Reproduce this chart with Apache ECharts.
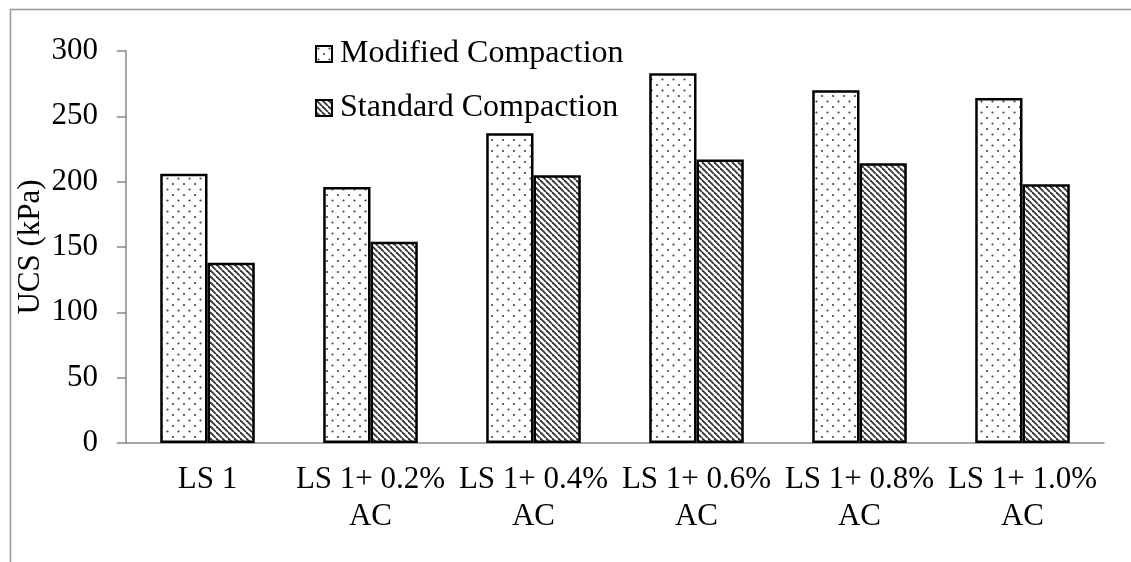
<!DOCTYPE html>
<html><head><meta charset="utf-8">
<script src="https://cdn.jsdelivr.net/npm/echarts@6/dist/echarts.min.js"></script>
<style>html,body{margin:0;padding:0;background:#fff}#c{width:1131px;height:562px}</style>
</head><body><div id="c"></div>
<script>
const categories = ['LS 1', 'LS 1+ 0.2%\nAC', 'LS 1+ 0.4%\nAC', 'LS 1+ 0.6%\nAC', 'LS 1+ 0.8%\nAC', 'LS 1+ 1.0%\nAC'];
const modified = [206, 196, 237, 283, 270, 264];
const standard = [138, 154, 205, 217, 214, 198];
const seriesNames = ['Modified Compaction', 'Standard Compaction'];
const yTicks = { min: 0, max: 300, interval: 50 };

function dotPattern() {
  const c = document.createElement('canvas'); c.width = 11; c.height = 11;
  const g = c.getContext('2d'); g.fillStyle = '#fff'; g.fillRect(0,0,11,11);
  g.fillStyle = '#444';
  g.beginPath(); g.arc(2.5,2.5,1.1,0,Math.PI*2); g.fill();
  g.beginPath(); g.arc(8,8,1.1,0,Math.PI*2); g.fill();
  return c;
}
function hatchPattern() {
  const s = 6;
  const c = document.createElement('canvas'); c.width = s; c.height = s;
  const g = c.getContext('2d'); g.fillStyle = '#fff'; g.fillRect(0,0,s,s);
  g.strokeStyle = '#333'; g.lineWidth = 1.8;
  for (const k of [-s, 0, s]) { g.beginPath(); g.moveTo(k, 0); g.lineTo(k + s, s); g.stroke(); }
  return c;
}
const FONT = 'Liberation Serif';
const chart = echarts.init(document.getElementById('c'), null, { renderer: 'canvas' });
chart.setOption({
  animation: false,
  backgroundColor: '#fff',
  graphic: [{ type: 'rect', left: 8, top: 7, shape: { width: 1200, height: 600 }, style: { fill: 'none', stroke: '#999', lineWidth: 1.5 } }],
  grid: { left: 126, right: 27, top: 51, bottom: 119, containLabel: false },
  legend: {
    orient: 'vertical', left: 310, top: 33, itemWidth: 16, itemHeight: 16, itemGap: 22,
    icon: 'rect',
    textStyle: { fontFamily: FONT, fontSize: 32, color: '#000', padding: [0,0,0,3] },
    data: seriesNames
  },
  xAxis: {
    type: 'category', data: categories,
    axisLine: { lineStyle: { color: '#888', width: 1.5 } },
    axisTick: { length: 9, lineStyle: { color: '#888', width: 1.5 } },
    axisLabel: { color: '#000', fontFamily: FONT, fontSize: 31, lineHeight: 37, margin: 18, interval: 0 }
  },
  yAxis: {
    type: 'value', min: yTicks.min, max: yTicks.max, interval: yTicks.interval,
    name: 'UCS (kPa)', nameLocation: 'middle', nameGap: 80, nameMoveOverlap: false,
    nameTextStyle: { color: '#000', fontFamily: FONT, fontSize: 31 },
    axisLine: { show: true, lineStyle: { color: '#888', width: 1.5 } },
    axisTick: { show: true, length: 9, lineStyle: { color: '#888', width: 1.5 } },
    splitLine: { show: false },
    axisLabel: { color: '#000', fontFamily: FONT, fontSize: 31, margin: 28 }
  },
  series: [
    { name: seriesNames[0], type: 'bar', data: modified, barGap: '0%', barCategoryGap: '42%',
      itemStyle: { color: { image: dotPattern(), repeat: 'repeat' }, borderColor: '#000', borderWidth: 2.5 } },
    { name: seriesNames[1], type: 'bar', data: standard, barGap: '0%', barCategoryGap: '42%',
      itemStyle: { color: { image: hatchPattern(), repeat: 'repeat' }, borderColor: '#000', borderWidth: 2.5 } }
  ]
});
</script></body></html>
